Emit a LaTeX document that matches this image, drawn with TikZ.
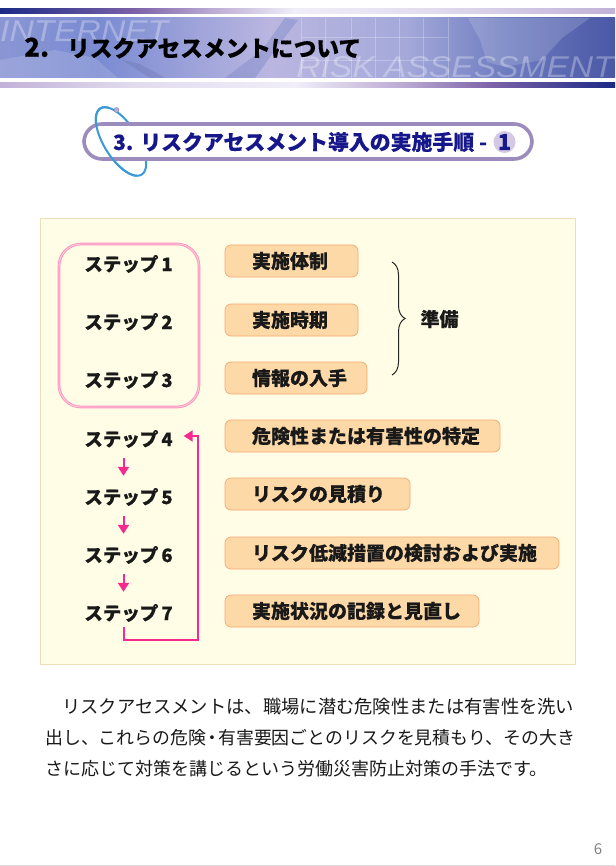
\documentclass[tikz,border=0pt]{standalone}
\usepackage{fontspec}
\usetikzlibrary{arrows.meta, decorations.pathreplacing}
\setmainfont[BoldFeatures={FakeBold=0.25}]{Noto Sans CJK JP}
\newfontfamily\latinfont[FakeStretch=1.12]{Liberation Sans}

\definecolor{barnavy}{HTML}{1C2A86}
\definecolor{framepurple}{HTML}{9C8CBE}
\definecolor{ringblue}{HTML}{3A9AD6}
\definecolor{titlenavy}{HTML}{17178C}
\definecolor{panelcream}{HTML}{FFFDE6}
\definecolor{panelline}{HTML}{E9DFB8}
\definecolor{stepline}{HTML}{FC93C2}
\definecolor{taskfill}{HTML}{FDD9A8}
\definecolor{taskline}{HTML}{F6A873}
\definecolor{arrowpink}{HTML}{F62A8E}

\definecolor{bandA}{HTML}{8A96D4}
\definecolor{bandB}{HTML}{7A8BD2}
\definecolor{bandC}{HTML}{BAB6E0}
\definecolor{bandD}{HTML}{A4A9DA}
\definecolor{bandE}{HTML}{6E7CC0}
\definecolor{bandF}{HTML}{4A58A6}
\definecolor{barB}{HTML}{7B62A8}
\definecolor{barC}{HTML}{B9A8D2}
\definecolor{barD}{HTML}{F0EEF8}
\definecolor{barE}{HTML}{E2DCEE}
\definecolor{barF}{HTML}{C0B2D8}
\pgfdeclarehorizontalshading{bannershade}{100bp}{color(0bp)=(bandA); color(25bp)=(bandA); color(33bp)=(bandB); color(47bp)=(bandC); color(58bp)=(bandD); color(66bp)=(bandE); color(75bp)=(bandF); color(100bp)=(bandF)}
\pgfdeclarehorizontalshading{topbarshade}{100bp}{color(0bp)=(barnavy); color(25bp)=(barnavy); color(36bp)=(barB); color(42bp)=(barC); color(49bp)=(barD); color(60bp)=(barE); color(75bp)=(barF); color(100bp)=(barF)}
\pgfdeclarehorizontalshading{lowbarshade}{100bp}{color(0bp)=(barF); color(25bp)=(barF); color(36bp)=(barE); color(49bp)=(barD); color(58bp)=(barC); color(65bp)=(barB); color(75bp)=(barnavy); color(100bp)=(barnavy)}

\tikzset{
    steplabel/.style={font=\fontsize{18.5}{18.5}\selectfont\bfseries, text=black!90, minimum width=90pt, minimum height=40pt, inner sep=0pt},
    taskbox/.style={draw=taskline, fill=taskfill, rounded corners=6pt, line width=0.7pt, minimum height=32pt, inner sep=0pt, align=left, font=\fontsize{19}{19}\selectfont\bfseries, text=black!90, execute at begin node=\hspace*{27pt}},
    steparrow/.style={draw=arrowpink, line width=2pt, -{Triangle[length=9pt, width=11pt]}},
    bodyline/.style={text=black!90, anchor=west, inner sep=0pt},
    backdrop/.style={font=\latinfont\itshape\fontsize{30}{30}\selectfont, text=white, text opacity=0.3, inner sep=0pt},
    ringline/.style={ringblue, line width=2pt, variable=\t, samples=60, smooth}
}

\begin{document}
\begin{tikzpicture}[x=1pt, y=-1pt]
    \useasboundingbox (0, 0) rectangle (615, 866);

    \shade[shading=topbarshade] (0, 9) rectangle (615, 14); % upper band
    \shade[shading=lowbarshade] (0, 83) rectangle (615, 88); % lower band
    \begin{scope}
        \clip (0, 18) rectangle (615, 78);
        \shade[shading=bannershade] (0, 18) rectangle (615, 78); % banner
        \fill[white, opacity=0.14] (0, 60) -- (55, 50) -- (95, 58) -- (118, 78) -- (0, 78) -- cycle; % land left
        \fill[bandB!70!black, opacity=0.22] (122, 60) -- (140, 64) -- (165, 78) -- (150, 78) -- cycle; % land left, dark edge
        \fill[bandE, opacity=0.35] (285, 18) -- (298, 20) -- (275, 50) -- (255, 78) -- (225, 78) -- (262, 50) -- cycle; % land middle
        \fill[white, opacity=0.16] (468, 18) -- (480, 40) -- (487, 62) -- (505, 67) -- (542, 60) -- (562, 38) -- (590, 18) -- cycle; % land right
        \foreach \gridx in {301, 325, 351, 375, 399, 423, 448} {
            \draw[white, opacity=0.25, line width=0.5pt] (\gridx, 18) -- (\gridx, 78); % grid
        }
        \draw[white, opacity=0.25, line width=0.5pt] (301, 37) -- (448, 37); % grid
        \draw[white, opacity=0.25, line width=0.5pt] (301, 60) -- (448, 60); % grid
        \node[backdrop, anchor=west] (internet) at (0, 31) {INTERNET};
        \node[backdrop, anchor=east] (riskword) at (614, 67) {RISK ASSESSMENT};
    \end{scope}
    \node[anchor=west, inner sep=0pt, font=\fontsize{22.7}{22.7}\selectfont\bfseries\addfontfeature{FakeBold=1.6}, text=black] (chapter) at (24, 48) {{\fontsize{26}{26}\selectfont 2.}\hspace{18pt}リスクアセスメントについて};

    \draw[ringline, domain=0:360] plot ({121 + 39*cos(\t)*cos(58) - 17*sin(\t)*sin(58)}, {141.5 + 39*cos(\t)*sin(58) + 17*sin(\t)*cos(58)}); % ring, back
    \node[draw=framepurple, fill=white, line width=3.6pt, rounded corners=18pt, minimum width=448pt, minimum height=35pt, inner sep=0pt] (titleframe) at (308, 141.5) {};
    \draw[ringline, domain=15:205] plot ({121 + 39*cos(\t)*cos(58) - 17*sin(\t)*sin(58)}, {141.5 + 39*cos(\t)*sin(58) + 17*sin(\t)*cos(58)}); % ring, front
    \node[circle, fill=framepurple!70!white, draw=barnavy!60, line width=0.4pt, minimum size=5pt, inner sep=0pt] (ringball) at (116.5, 110) {};
    \node[anchor=west, inner sep=0pt, font=\fontsize{20.9}{20.9}\selectfont\bfseries, text=titlenavy] (titletext) at (113, 142) {3.\hspace{7pt}リスクアセスメント導入の実施手順 -};
    \node[circle, fill=barF!70!white, minimum size=22pt, inner sep=0pt, font=\fontsize{22}{22}\selectfont\bfseries, text=titlenavy] (titlenum) at (504.5, 142) {1};

    \node[draw=panelline, fill=panelcream, line width=1pt, minimum width=535pt, minimum height=445pt, inner sep=0pt] (panel) at (307.5, 441.5) {};
    \node[draw=stepline, double=stepline!45!panelcream, double distance=0.9pt, line width=0.9pt, rounded corners=22pt, minimum width=140pt, minimum height=163pt, inner sep=0pt] (prepframe) at (129, 325.5) {};

    \node[steplabel] (step1) at (128.5, 264) {ステップ\,1};
    \node[steplabel] (step2) at (128.5, 322) {ステップ\,2};
    \node[steplabel] (step3) at (128.5, 380) {ステップ\,3};
    \node[steplabel] (step4) at (128.5, 439) {ステップ\,4};
    \node[steplabel] (step5) at (128.5, 497) {ステップ\,5};
    \node[steplabel] (step6) at (128.5, 555) {ステップ\,6};
    \node[steplabel] (step7) at (128.5, 613) {ステップ\,7};

    \node[taskbox, text width=133pt] (task1) at (291.5, 261) {実施体制};
    \node[taskbox, text width=133pt] (task2) at (291.5, 320) {実施時期};
    \node[taskbox, text width=142pt] (task3) at (296, 378) {情報の入手};
    \node[taskbox, text width=275pt] (task4) at (362.5, 436) {危険性または有害性の特定};
    \node[taskbox, text width=185pt] (task5) at (317.5, 494) {リスクの見積り};
    \node[taskbox, text width=334pt] (task6) at (392, 553) {リスク低減措置の検討および実施};
    \node[taskbox, text width=254pt] (task7) at (352, 611) {実施状況の記録と見直し};

    \coordinate (bracetop) at (392, 262);
    \coordinate (bracelow) at (392, 375);
    \draw[black!85, line width=1pt, decorate, decoration={brace, amplitude=13pt}] (bracetop) -- (bracelow); % preparation brace
    \node[font=\fontsize{19}{19}\selectfont\bfseries, text=black!90, inner sep=0pt] (prepword) at (439.5, 319) {準備};

    \draw[steparrow] ([xshift=-5pt, yshift=1pt]step4.south) -- ([xshift=-5pt, yshift=1pt]step5.north);
    \draw[steparrow] ([xshift=-5pt, yshift=1pt]step5.south) -- ([xshift=-5pt, yshift=1pt]step6.north);
    \draw[steparrow] ([xshift=-5pt, yshift=1pt]step6.south) -- ([xshift=-5pt, yshift=1pt]step7.north);
    \coordinate (loopcorner) at (198, 640);
    \draw[steparrow] ([xshift=-5pt, yshift=6pt]step7.south) |- (loopcorner) |- ([xshift=10pt, yshift=3pt]step4.east);

    \node[bodyline, font=\fontsize{18.3}{18.3}\selectfont] (body1) at (62, 707) {リスクアセスメントは、職場に潜む危険性または有害性を洗い};
    \node[bodyline, font=\fontsize{17.9}{17.9}\selectfont] (body2) at (45, 738) {出し、これらの危険\kern-3pt・\kern-3pt有害要因ごとのリスクを見積もり、その大き};
    \node[bodyline, font=\fontsize{18}{18}\selectfont] (body3) at (45, 769) {さに応じて対策を講じるという労働災害防止対策の手法です。};
    \node[font=\fontsize{15}{15}\selectfont, text=black!50, inner sep=0pt] (pagenum) at (598, 849) {6};
    \draw[black!15, line width=0.8pt] (0, 865) -- (615, 865); % foot line
\end{tikzpicture}
\end{document}
